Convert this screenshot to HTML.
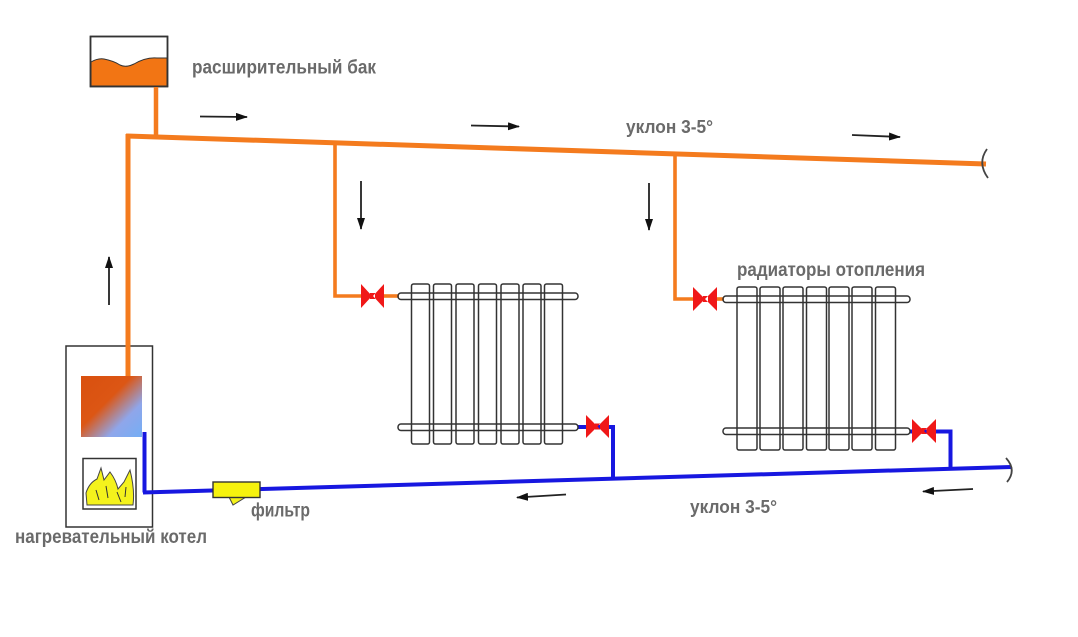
<!DOCTYPE html>
<html><head><meta charset="utf-8"><style>
html,body{margin:0;padding:0;background:#fff;}
svg{display:block;}
text{font-family:"Liberation Sans","DejaVu Sans",sans-serif;font-weight:bold;fill:#6a6a6a;}
</style></head><body>
<svg width="1078" height="637" viewBox="0 0 1078 637" xmlns="http://www.w3.org/2000/svg">
<defs>
<marker id="ah" viewBox="0 0 12 8" refX="11" refY="4" markerWidth="12" markerHeight="8" markerUnits="userSpaceOnUse" orient="auto"><path d="M0,0 L12,4 L0,8 Z" fill="#111"/></marker>
<linearGradient id="hx" x1="0" y1="0" x2="1" y2="1">
<stop offset="0" stop-color="#d9500f"/>
<stop offset="0.42" stop-color="#dc5614"/>
<stop offset="0.72" stop-color="#8fa6ea"/>
<stop offset="1" stop-color="#74aef5"/>
</linearGradient>
</defs>
<rect width="1078" height="637" fill="#fff"/>

<!-- expansion tank -->
<rect x="90.5" y="36.5" width="77" height="50" fill="#fff" stroke="#333" stroke-width="1.6"/>
<path d="M91 62 Q 98 58 104 59 Q 114 61 120 65 Q 126 68 134 64 Q 146 57 157 58 L167 58 L167 86 L91 86 Z" fill="#f27514" stroke="#333" stroke-width="1"/>
<rect x="90.5" y="36.5" width="77" height="50" fill="none" stroke="#333" stroke-width="1.6"/>

<!-- orange supply pipes -->
<g stroke="#f47b1e" fill="none" stroke-linejoin="miter">
<line x1="156" y1="87" x2="156" y2="137" stroke-width="4.5"/>
<line x1="126" y1="136" x2="986" y2="164" stroke-width="5"/>
<line x1="128" y1="134" x2="128" y2="377" stroke-width="5"/>
<polyline points="335,143 335,296 362,296" stroke-width="3.6"/>
<line x1="383" y1="296" x2="399" y2="296" stroke-width="3.6"/>
<polyline points="675,154 675,299 694,299" stroke-width="3.6"/>
<line x1="716" y1="299" x2="724" y2="299" stroke-width="3.6"/>
</g>
<path d="M987 149 Q 977 163 988 178" fill="none" stroke="#444" stroke-width="1.8"/>

<!-- boiler -->
<rect x="66" y="346" width="86.5" height="181" fill="none" stroke="#333" stroke-width="1.5"/>
<line x1="128" y1="340" x2="128" y2="377" stroke="#f47b1e" stroke-width="5"/>
<rect x="81" y="376" width="61" height="61" fill="url(#hx)"/>
<rect x="83" y="458.5" width="53" height="50.5" fill="#fff" stroke="#333" stroke-width="1.5"/>
<path d="M87 505 L86 493 Q 89 483 97 479 L101 468 L104 480 L110 472 Q 116 480 118 489 L124 482 L130 470 Q 135 490 133 505 Z" fill="#f4f21c" stroke="#444" stroke-width="1"/>
<path d="M96 490 L99 500 M106 486 L108 498 M117 492 L121 502 M126 487 L125 497" stroke="#333" stroke-width="1" fill="none"/>

<!-- blue return pipes -->
<g stroke="#1717e0" fill="none" stroke-width="4">
<polyline points="144.5,432 144.5,492.5"/>
<line x1="143" y1="492.5" x2="1011" y2="467"/>
<polyline points="578,427 613,427 613,479"/>
<polyline points="910,431.5 950.5,431.5 950.5,469"/>
</g>
<path d="M1006 458 Q 1017 470 1007 482" fill="none" stroke="#444" stroke-width="1.8"/>

<!-- filter -->
<path d="M229 497 L246 497 L233 505 Z" fill="#f4f21c" stroke="#444" stroke-width="1"/>
<rect x="213" y="482" width="47" height="15.5" fill="#f6f20e" stroke="#333" stroke-width="1.4"/>

<!-- radiator 1 -->
<g fill="none" stroke="#333" stroke-width="1.5">
<rect x="398" y="293" width="180" height="6.5" rx="3"/>
<rect x="398" y="424" width="180" height="6.5" rx="3"/>
<rect x="411.5" y="284" width="18" height="160" rx="2"/>
<rect x="433.5" y="284" width="18" height="160" rx="2"/>
<rect x="456" y="284" width="18" height="160" rx="2"/>
<rect x="478.5" y="284" width="18" height="160" rx="2"/>
<rect x="501" y="284" width="18" height="160" rx="2"/>
<rect x="523" y="284" width="18" height="160" rx="2"/>
<rect x="544.5" y="284" width="18" height="160" rx="2"/>
</g>

<!-- radiator 2 -->
<g fill="none" stroke="#333" stroke-width="1.5">
<rect x="723" y="296" width="187" height="6.5" rx="3"/>
<rect x="723" y="428" width="187" height="6.5" rx="3"/>
<rect x="737" y="287" width="20" height="163" rx="2"/>
<rect x="760" y="287" width="20" height="163" rx="2"/>
<rect x="783" y="287" width="20" height="163" rx="2"/>
<rect x="806.5" y="287" width="20" height="163" rx="2"/>
<rect x="829" y="287" width="20" height="163" rx="2"/>
<rect x="852" y="287" width="20" height="163" rx="2"/>
<rect x="875.5" y="287" width="20" height="163" rx="2"/>
</g>

<!-- valves -->
<g fill="#f01818">
<path d="M361 284 L372 296 L361 308 Z M384 284 L373 296 L384 308 Z M370 293 h5 v6 h-5z"/>
<path d="M693 287 L705 299 L693 311 Z M717 287 L705 299 L717 311 Z M703 296 h5 v6 h-5z"/>
<path d="M586 415 L597.5 426.5 L586 438 Z M609 415 L597.5 426.5 L609 438 Z M595 423.5 h5 v6 h-5z"/>
<path d="M912 419 L924 431 L912 443 Z M936 419 L924 431 L936 443 Z M921.5 428 h5 v6 h-5z"/>
</g>

<!-- flow arrows -->
<g stroke="#222" stroke-width="1.8" marker-end="url(#ah)">
<line x1="200" y1="116.5" x2="247" y2="117"/>
<line x1="471" y1="125.5" x2="519" y2="126.5"/>
<line x1="852" y1="135" x2="900" y2="137"/>
<line x1="361" y1="181" x2="361" y2="229"/>
<line x1="649" y1="183" x2="649" y2="230"/>
<line x1="109" y1="305" x2="109" y2="257"/>
<line x1="566" y1="494.5" x2="517" y2="497.5"/>
<line x1="973" y1="489" x2="923" y2="491.5"/>
</g>

<!-- labels -->
<text x="192" y="73.5" font-size="19" textLength="184" lengthAdjust="spacingAndGlyphs">расширительный бак</text>
<text x="626" y="133" font-size="18" textLength="87" lengthAdjust="spacingAndGlyphs">уклон 3-5°</text>
<text x="737" y="276" font-size="19" textLength="188" lengthAdjust="spacingAndGlyphs">радиаторы отопления</text>
<text x="251" y="516.5" font-size="19" textLength="59" lengthAdjust="spacingAndGlyphs">фильтр</text>
<text x="690" y="513" font-size="18" textLength="87" lengthAdjust="spacingAndGlyphs">уклон 3-5°</text>
<text x="15" y="543" font-size="19" textLength="192" lengthAdjust="spacingAndGlyphs">нагревательный котел</text>
</svg>
</body></html>
